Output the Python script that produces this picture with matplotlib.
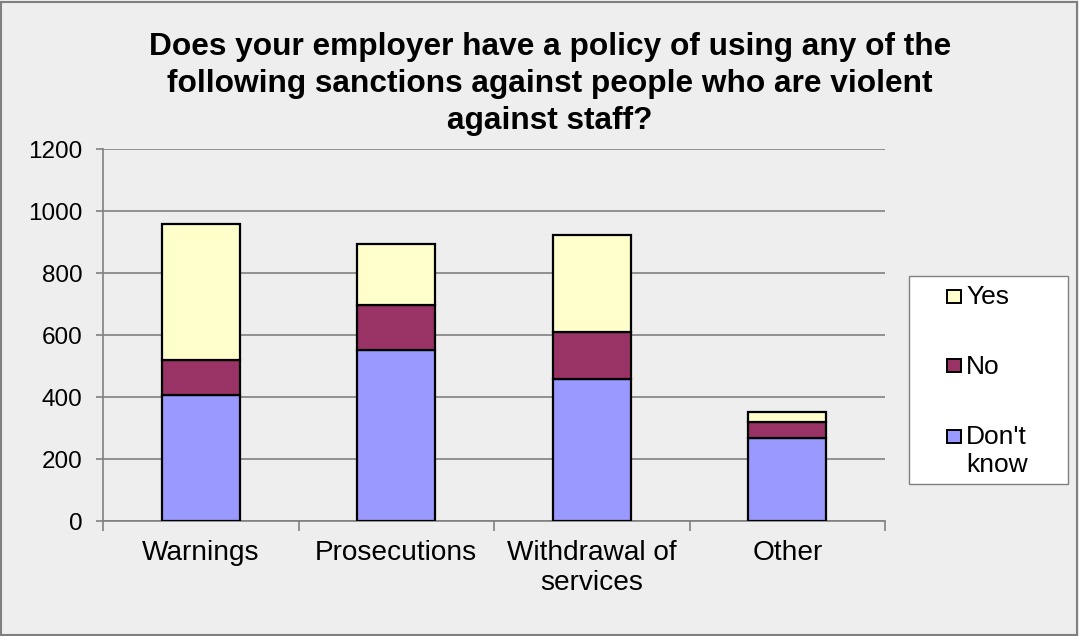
import numpy as np
import matplotlib
matplotlib.use('Agg')
import matplotlib.pyplot as plt
from matplotlib.patches import Rectangle

# survey counts per sanction type
categories = ['Warnings', 'Prosecutions', 'Withdrawal of\nservices', 'Other']
dont_know = [406, 552, 457, 267]
no = [114, 144, 152, 53]
yes = [438, 196, 312, 32]
y_ticks = [0, 200, 400, 600, 800, 1000, 1200]

series_labels = ['Yes', 'No', "Don't\nknow"]
series_colors = ['#ffffcc', '#993366', '#9999ff']

title = ('Does your employer have a policy of using any of the\n'
         'following sanctions against people who are violent\n'
         'against staff?')

plt.rcParams['font.family'] = ['Liberation Sans', 'DejaVu Sans']

W, H = 1079, 636
bg = '#eeeeee'
grid_grey = '#808080'

fig = plt.figure(figsize=(W / 100, H / 100), dpi=100, facecolor=bg)
ax = fig.add_axes([103 / W, 1 - 521 / H, (885 - 103) / W, (521 - 149) / H])
ax.set_facecolor(bg)

# stacked bars: don't know at the bottom, then no, then yes
x = np.arange(len(categories))
bottom_no = np.array(dont_know)
bottom_yes = bottom_no + np.array(no)
kw = dict(width=0.4, edgecolor='black', linewidth=1.6, zorder=3)
ax.bar(x, dont_know, color=series_colors[2], **kw)
ax.bar(x, no, bottom=bottom_no, color=series_colors[1], **kw)
ax.bar(x, yes, bottom=bottom_yes, color=series_colors[0], **kw)

ax.set_xlim(-0.5, len(categories) - 0.5)
ax.set_ylim(0, 1200)
ax.set_yticks(y_ticks)
ax.yaxis.grid(True, color=grid_grey, linewidth=1.2)
ax.set_axisbelow(True)

ax.set_xticks(x)
ax.set_xticklabels(categories, fontsize=20.2)
ax.set_xticks(np.arange(-0.5, len(categories), 1), minor=True)
ax.tick_params(axis='x', which='major', length=0, pad=14)
ax.tick_params(axis='x', which='minor', length=7, width=1.2, color=grid_grey)
ax.tick_params(axis='y', length=5, width=1.2, color=grid_grey, pad=10, labelsize=17.5)

for side in ['top', 'right']:
    ax.spines[side].set_visible(False)
for side in ['left', 'bottom']:
    ax.spines[side].set_color(grid_grey)
    ax.spines[side].set_linewidth(1.2)

fig.text(550 / W, 1 - 32 / H, title, ha='center', va='top',
         fontsize=22.8, fontweight='bold', linespacing=1.3)

# outer chart border
fig.patches.append(Rectangle((1 / W, 1 / H), (W - 3) / W, (H - 3) / H,
                             transform=fig.transFigure, fill=False,
                             edgecolor=grid_grey, linewidth=1.5))

# legend box drawn by hand
fig.patches.append(Rectangle((909 / W, 1 - 484 / H), 159 / W, 208 / H,
                             transform=fig.transFigure, facecolor='white',
                             edgecolor=grid_grey, linewidth=1.0))
legend_y = [296.5, 365.5, 436]
line_pitch = 28
for lab, col, yc in zip(series_labels, series_colors, legend_y):
    fig.patches.append(Rectangle((947 / W, 1 - (yc + 6.5) / H), 14 / W, 13 / H,
                                 transform=fig.transFigure, facecolor=col,
                                 edgecolor='black', linewidth=1.4))
    for i, line in enumerate(lab.split('\n')):
        base = yc + 8 + i * line_pitch
        fig.text(966 / W, 1 - base / H, line, ha='left', va='baseline',
                 fontsize=19)

fig.savefig('out.png', dpi=100, facecolor=bg)
